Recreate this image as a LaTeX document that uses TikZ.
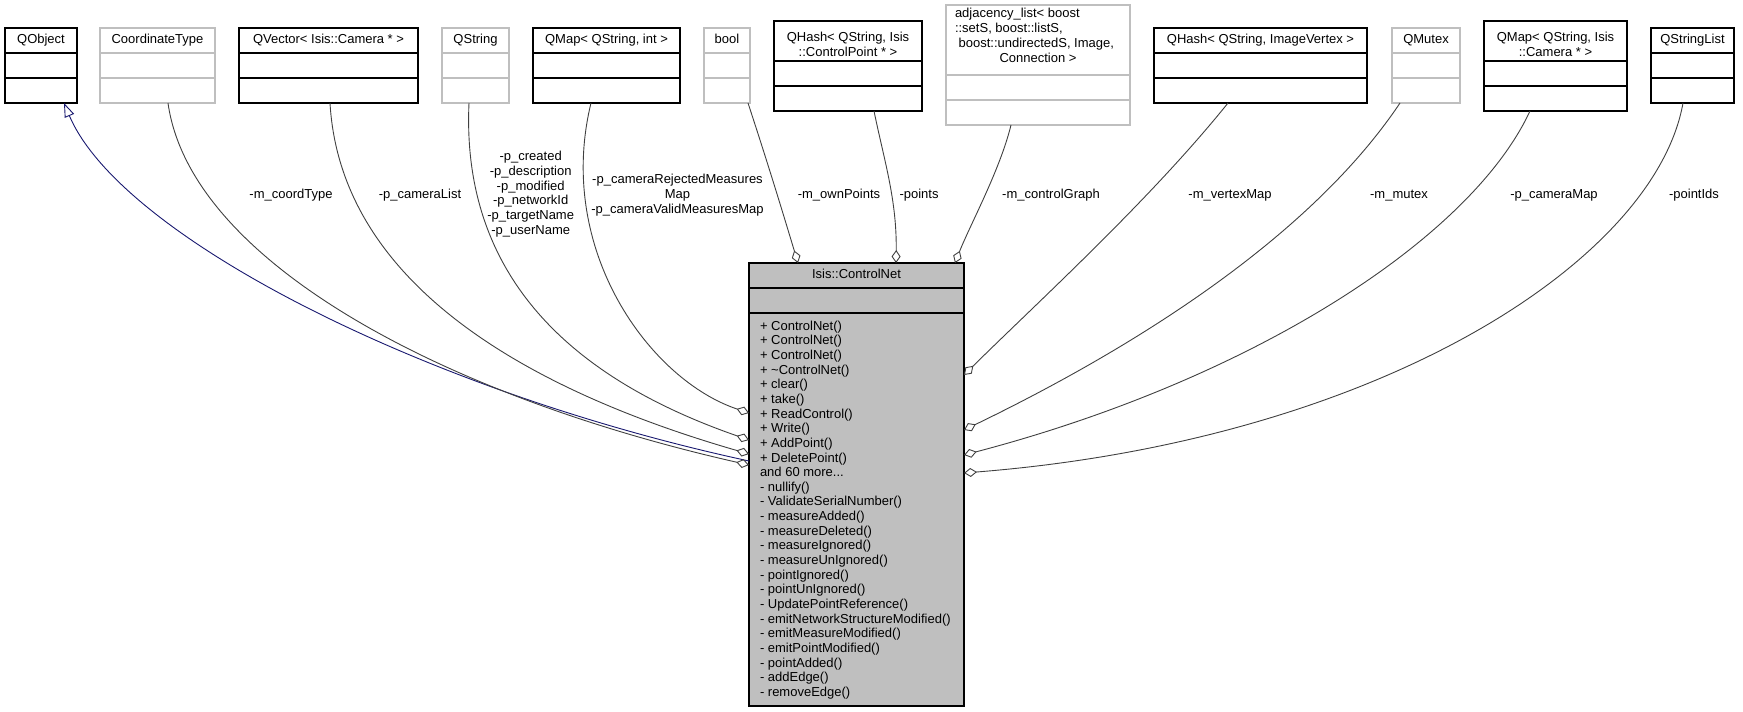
\documentclass[tikz,border=0pt]{standalone}
\usepackage{fontspec}
\setmainfont{Liberation Sans}
\usetikzlibrary{arrows.meta,calc}
\definecolor{boxgrey}{HTML}{BFBFBF}
\definecolor{edgegrey}{HTML}{404040}
\definecolor{cnfill}{HTML}{BFBFBF}
\definecolor{navyline}{HTML}{191970}
\newcommand{\dfont}{\fontsize{13}{15}\selectfont}
% class box: name, x1, x2, ytop, header height, style
\newcommand{\umlbox}[6]{%
  \node[#6, anchor=north west, minimum width={#3-#2}, minimum height={#5+50}] (#1) at (#2,#4) {};
  \draw[#6] ($(#1.north west)+(0,#5)$) -- ($(#1.north east)+(0,#5)$);
  \draw[#6] ($(#1.north west)+(0,#5+25)$) -- ($(#1.north east)+(0,#5+25)$);
}
\begin{document}
\begin{tikzpicture}[x=1pt,y=-1pt,
  txt/.style={inner sep=0pt, outer sep=0pt, align=center, font=\dfont},
  blackbox/.style={draw=black, line width=1.1pt, inner sep=0pt, outer sep=0pt},
  greybox/.style={draw=boxgrey, line width=1.1pt, inner sep=0pt, outer sep=0pt},
  cnbox/.style={draw=black, fill=cnfill, line width=1.1pt, inner sep=0pt, outer sep=0pt},
  aggr/.style={draw=edgegrey, line width=0.9pt, -{Diamond[open,length=13pt,width=9pt]}},
  inhline/.style={draw=navyline, line width=0.9pt, {Triangle[open,length=14pt,width=10pt]}-},
]
\useasboundingbox (0,0) rectangle (1743,712);

% ---- top row of classes
\umlbox{qobject}{5}{77}{28}{25}{blackbox}
\node[txt] (qobject-t) at ($(qobject.north)+(0,12.5)$) {\strut QObject};
\umlbox{coordtype}{100}{215}{28}{25}{greybox}
\node[txt] (coordtype-t) at ($(coordtype.north)+(0,12.5)$) {\strut CoordinateType};
\umlbox{qvector}{239}{418}{28}{25}{blackbox}
\node[txt] (qvector-t) at ($(qvector.north)+(0,12.5)$) {\strut QVector< Isis::Camera * >};
\umlbox{qstring}{442}{509}{28}{25}{greybox}
\node[txt] (qstring-t) at ($(qstring.north)+(0,12.5)$) {\strut QString};
\umlbox{qmapint}{533}{680}{28}{25}{blackbox}
\node[txt] (qmapint-t) at ($(qmapint.north)+(0,12.5)$) {\strut QMap< QString, int >};
\umlbox{boolbox}{704}{750}{28}{25}{greybox}
\node[txt] (boolbox-t) at ($(boolbox.north)+(0,12.5)$) {\strut bool};
\umlbox{qhashcp}{774}{922}{21}{40}{blackbox}
\node[txt] (qhashcp-t) at ($(qhashcp.north)+(0,24.7)$) {\strut QHash< QString, Isis\\::ControlPoint * >\strut};
\umlbox{adjlist}{946}{1130}{5}{70}{greybox}
\node[txt, align=left, anchor=west] (adjlist-t) at ($(adjlist.north west)+(9,32.3)$)
  {\strut adjacency\_list< boost\\::setS, boost::listS,\\\hspace*{3.6pt}boost::undirectedS, Image,\\\hspace*{44.5pt}Connection >\strut};
\umlbox{qhashiv}{1154}{1367}{28}{25}{blackbox}
\node[txt] (qhashiv-t) at ($(qhashiv.north)+(0,12.5)$) {\strut QHash< QString, ImageVertex >};
\umlbox{qmutex}{1392}{1460}{28}{25}{greybox}
\node[txt] (qmutex-t) at ($(qmutex.north)+(0,12.5)$) {\strut QMutex};
\umlbox{qmapcam}{1484}{1627}{21}{40}{blackbox}
\node[txt] (qmapcam-t) at ($(qmapcam.north)+(0,24.7)$) {\strut QMap< QString, Isis\\::Camera * >\strut};
\umlbox{qstrlist}{1651}{1734}{28}{25}{blackbox}
\node[txt] (qstrlist-t) at ($(qstrlist.north)+(0,12.5)$) {\strut QStringList};

% ---- central class
\node[cnbox, anchor=north west, minimum width=215, minimum height=443] (cn) at (749,263) {};
\draw[cnbox] ($(cn.north west)+(0,25)$) -- ($(cn.north east)+(0,25)$);
\draw[cnbox] ($(cn.north west)+(0,50)$) -- ($(cn.north east)+(0,50)$);
\node[txt] (cn-t) at ($(cn.north)+(0,12.5)$) {\strut Isis::ControlNet};
\node[txt, align=left, anchor=north west, font=\fontsize{13}{14.65}\selectfont] (cn-m) at ($(cn.north west)+(11,56.9)$)
{\strut + ControlNet()\\
+ ControlNet()\\
+ ControlNet()\\
+ \textasciitilde ControlNet()\\
+ clear()\\
+ take()\\
+ ReadControl()\\
+ Write()\\
+ AddPoint()\\
+ DeletePoint()\\
and 60 more...\\
- nullify()\\
- ValidateSerialNumber()\\
- measureAdded()\\
- measureDeleted()\\
- measureIgnored()\\
- measureUnIgnored()\\
- pointIgnored()\\
- pointUnIgnored()\\
- UpdatePointReference()\\
- emitNetworkStructureModified()\\
- emitMeasureModified()\\
- emitPointModified()\\
- pointAdded()\\
- addEdge()\\
- removeEdge()};

% ---- connectors
\draw[inhline] ($(qobject.south west)+(59,0)$) .. controls (120,235) and (420,390) .. ($(cn.north west)+(0,198)$);
\draw[aggr] ($(coordtype.south west)+(68,0)$) .. controls (190,260) and (440,395) .. ($(cn.north west)+(0,202)$);
\draw[aggr] ($(qvector.south west)+(91,0)$) .. controls (340,275) and (510,385) .. ($(cn.north west)+(0,191)$);
\draw[aggr] ($(qstring.south west)+(27,0)$) .. controls (460,300) and (605,390) .. ($(cn.north west)+(0,177)$);
\draw[aggr] ($(qmapint.south west)+(58,0)$) .. controls (555,250) and (650,380) .. ($(cn.north west)+(0,150)$);
\draw[aggr] ($(boolbox.south west)+(44,0)$) .. controls (770,170) and (785,220) .. ($(cn.north west)+(49,0)$);
\draw[aggr] ($(qhashcp.south west)+(100,0)$) .. controls (884,160) and (897,200) .. ($(cn.north west)+(147,0)$);
\draw[aggr] ($(adjlist.south west)+(65,0)$) .. controls (1000,170) and (970,225) .. ($(cn.north west)+(206,0)$);
\draw[aggr] ($(qhashiv.south west)+(74,0)$) .. controls (1150,200) and (1040,300) .. ($(cn.north east)+(0,112)$);
\draw[aggr] ($(qmutex.south west)+(8,0)$) .. controls (1315,230) and (1150,340) .. ($(cn.north east)+(0,167)$);
\draw[aggr] ($(qmapcam.south west)+(46,0)$) .. controls (1470,240) and (1250,380) .. ($(cn.north east)+(0,192)$);
\draw[aggr] ($(qstrlist.south west)+(32,0)$) .. controls (1655,260) and (1380,440) .. ($(cn.north east)+(0,210)$);

% ---- connector labels
\node[txt] (l-coord) at (291,195.5) {\strut -m\_coordType};
\node[txt] (l-camlist) at (420,195.5) {\strut -p\_cameraList};
\node[txt, font=\fontsize{13}{14.8}\selectfont] (l-pstr) at (530.7,194.5)
  {\strut -p\_created\\-p\_description\\-p\_modified\\-p\_networkId\\-p\_targetName\\-p\_userName\strut};
\node[txt] (l-camrej) at (677.5,195.5)
  {\strut -p\_cameraRejectedMeasures\\Map\\-p\_cameraValidMeasuresMap\strut};
\node[txt] (l-own) at (839,195.5) {\strut -m\_ownPoints};
\node[txt] (l-points) at (919,195.5) {\strut -points};
\node[txt] (l-graph) at (1051,195.5) {\strut -m\_controlGraph};
\node[txt] (l-vmap) at (1230,195.5) {\strut -m\_vertexMap};
\node[txt] (l-mutex) at (1399,195.5) {\strut -m\_mutex};
\node[txt] (l-cmap) at (1554,195.5) {\strut -p\_cameraMap};
\node[txt] (l-pids) at (1694,195.5) {\strut -pointIds};
\end{tikzpicture}
\end{document}
